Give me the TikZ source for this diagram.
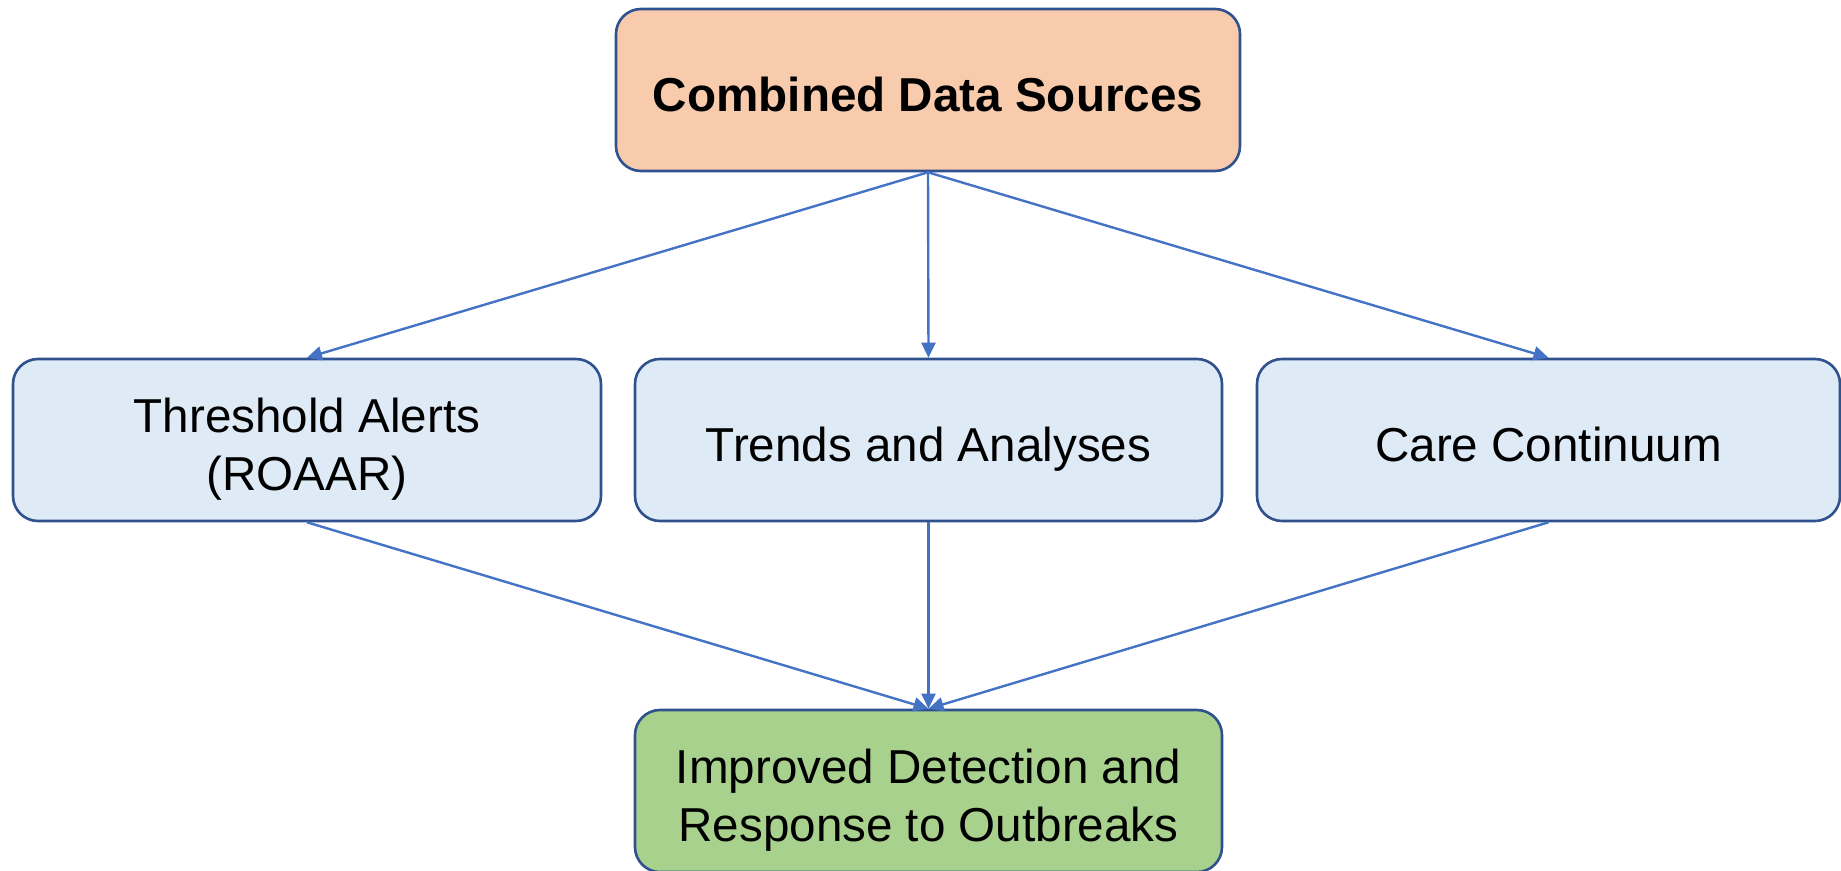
\documentclass[tikz,border=0pt]{standalone}
\usepackage{fontspec}
\setmainfont{Liberation Sans}
\usetikzlibrary{arrows.meta}
\definecolor{borderc}{HTML}{2F528F}
\definecolor{arrowc}{HTML}{4472C4}
\definecolor{orangef}{HTML}{F8CBAD}
\definecolor{bluef}{HTML}{DEEAF6}
\definecolor{greenf}{HTML}{A9D18E}
\newcommand{\oneline}[1]{\raisebox{0pt}[42pt][0pt]{#1}}
\newcommand{\twoline}[2]{\raisebox{0pt}[20pt][36pt]{\begin{tabular}[t]{@{}c@{}}#1\\#2\end{tabular}}}
\tikzset{
  box/.style={draw=borderc, line width=2.6pt, rounded corners=25pt, minimum height=162pt,
    inner sep=0pt, align=center, font=\fontsize{47.6pt}{58pt}\selectfont},
  conn/.style={draw=arrowc, line width=2.4pt, -{Triangle[length=15pt,width=14pt]}}
}
\begin{document}
\begin{tikzpicture}[x=1pt,y=-1pt]
\useasboundingbox (0,0) rectangle (1841,870);
\node[box, fill=orangef, minimum width=624pt, font=\fontsize{47.6pt}{58pt}\selectfont\bfseries] (top) at (928,90) {\oneline{Combined Data Sources}};
\node[box, fill=bluef, minimum width=588pt] (left) at (307,440) {\twoline{Threshold Alerts}{(ROAAR)}};
\node[box, fill=bluef, minimum width=587pt] (mid) at (928.5,440) {\oneline{Trends and Analyses}};
\node[box, fill=bluef, minimum width=583pt] (right) at (1548.5,440) {\oneline{Care Continuum}};
\node[box, fill=greenf, minimum width=587pt] (bot) at (928.5,791) {\twoline{Improved Detection and}{Response to Outbreaks}};
\draw[conn] (top.south) -- (left.north);
\draw[conn] (top.south) -- (mid.north);
\draw[conn] (top.south) -- (right.north);
\draw[conn] (left.south) -- (bot.north);
\draw[conn] (mid.south) -- (bot.north);
\draw[conn] (right.south) -- (bot.north);
\end{tikzpicture}
\end{document}
